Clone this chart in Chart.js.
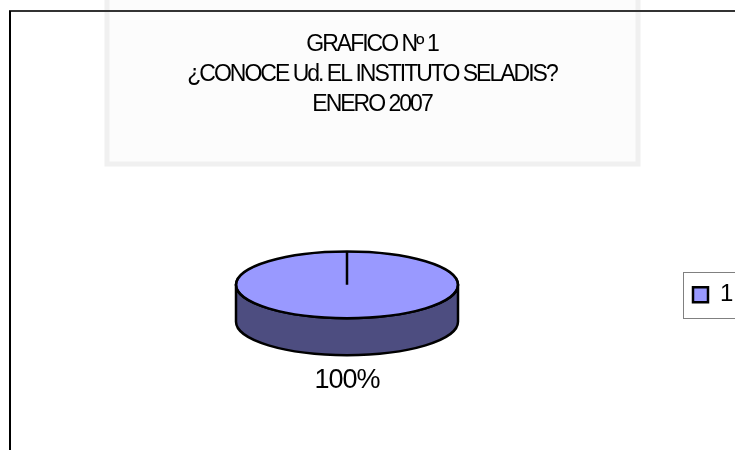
<!DOCTYPE html>
<html lang="es">
<head>
    <meta charset="UTF-8">
    <title>GRAFICO Nº 1</title>
    <script src="https://cdn.jsdelivr.net/npm/chart.js"></script>
    <style>
        body {
            margin: 0;
            background-color: #ffffff;
        }
        .chart-container {
            position: relative;
            width: 735px;
            height: 450px;
        }
    </style>
</head>
<body>
    <div class="chart-container">
        <canvas id="pieChart"></canvas>
    </div>

    <script>
        // datos del gráfico
        const categories = ['1'];
        const values = [100];
        const titleLines = ['GRAFICO Nº 1', '¿CONOCE Ud. EL INSTITUTO SELADIS?', 'ENERO 2007'];

        const topColors = ['#9999ff'];
        const sideColors = ['#4d4d80'];
        const tilt = 0.3;     // aplastamiento vertical del disco
        const depth = 37;     // grosor del disco en px
        const fontFamily = "'Liberation Sans', Arial, sans-serif";

        // fondo: marca de agua tenue y bordes de la hoja
        const pageFrame = {
            id: 'pageFrame',
            beforeDraw(chart) {
                const ctx = chart.ctx;
                ctx.save();
                ctx.fillStyle = '#fcfcfc';
                ctx.fillRect(105, 0, 535, 165);
                ctx.strokeStyle = '#f0f0f0';
                ctx.lineWidth = 5;
                ctx.strokeRect(107, -5, 531, 169);
                ctx.strokeStyle = '#333333';
                ctx.lineWidth = 2;
                ctx.beginPath();
                ctx.moveTo(9, 11);
                ctx.lineTo(735, 11);
                ctx.stroke();
                ctx.strokeStyle = '#000000';
                ctx.lineWidth = 2;
                ctx.beginPath();
                ctx.moveTo(10, 11);
                ctx.lineTo(10, 450);
                ctx.stroke();
                ctx.restore();
                // texto condensado como en el original
                ctx.letterSpacing = '-2px';
            }
        };

        // torta en 3D: lateral oscuro + tapa aplastada
        const pie3d = {
            id: 'pie3d',
            beforeDatasetsDraw(chart) {
                const ctx = chart.ctx;
                const arcs = chart.getDatasetMeta(0).data;
                const cx = arcs[0].x, cy = arcs[0].y, r = arcs[0].outerRadius;
                ctx.save();
                arcs.forEach((arc, i) => {
                    const a0 = Math.max(arc.startAngle, 0);
                    const a1 = Math.min(arc.endAngle, Math.PI);
                    if (a1 <= a0) return;
                    ctx.beginPath();
                    ctx.ellipse(cx, cy + depth, r, r * tilt, 0, a0, a1);
                    ctx.ellipse(cx, cy, r, r * tilt, 0, a1, a0, true);
                    ctx.closePath();
                    ctx.fillStyle = sideColors[i % sideColors.length];
                    ctx.fill();
                    ctx.strokeStyle = '#000000';
                    ctx.lineWidth = 2.5;
                    ctx.lineJoin = 'round';
                    ctx.stroke();
                });
                ctx.restore();
                ctx.save();
                ctx.translate(cx, cy);
                ctx.scale(1, tilt);
                ctx.translate(-cx, -cy);
            },
            afterDatasetsDraw(chart) {
                const ctx = chart.ctx;
                ctx.restore();
                const arcs = chart.getDatasetMeta(0).data;
                const cx = arcs[0].x, cy = arcs[0].y, r = arcs[0].outerRadius;
                ctx.save();
                ctx.strokeStyle = '#000000';
                ctx.lineWidth = 2.5;
                ctx.beginPath();
                ctx.ellipse(cx, cy, r, r * tilt, 0, 0, Math.PI * 2);
                ctx.stroke();

                // etiquetas de porcentaje
                const total = values.reduce((a, b) => a + b, 0);
                ctx.fillStyle = '#000000';
                ctx.font = '27px ' + fontFamily;
                ctx.letterSpacing = '-1px';
                ctx.textAlign = 'center';
                ctx.textBaseline = 'middle';
                arcs.forEach((arc, i) => {
                    const mid = (arc.startAngle + arc.endAngle) / 2;
                    const gap = 25;
                    const sin = Math.sin(mid), cos = Math.cos(mid);
                    const x = cx + cos * (r + gap);
                    const y = cy + sin * (r * tilt + gap) + (sin > 0 ? depth : 0);
                    ctx.fillText(Math.round(values[i] / total * 100) + '%', x, y);
                });
                ctx.restore();
            },
            afterDraw(chart) {
                // recuadro de la leyenda
                const lg = chart.legend;
                if (!lg || !lg.legendHitBoxes.length) return;
                const hb = lg.legendHitBoxes[0];
                const ctx = chart.ctx;
                const midY = hb.top + hb.height / 2;
                ctx.save();
                ctx.strokeStyle = '#808080';
                ctx.lineWidth = 1;
                ctx.strokeRect(hb.left - 9.5, Math.round(midY - 23) + 0.5, 80, 46);
                ctx.restore();
            }
        };

        function createChart() {
            const ctx = document.getElementById('pieChart').getContext('2d');
            new Chart(ctx, {
                type: 'pie',
                data: {
                    labels: categories,
                    datasets: [{
                        data: values,
                        backgroundColor: topColors,
                        borderColor: '#000000',
                        borderWidth: 2.5,
                        radius: 111
                    }]
                },
                options: {
                    responsive: true,
                    maintainAspectRatio: false,
                    animation: false,
                    events: [],
                    layout: {
                        padding: { left: 9, right: 0, top: 0, bottom: 10 }
                    },
                    plugins: {
                        title: {
                            display: true,
                            text: titleLines,
                            color: '#000000',
                            font: { family: fontFamily, size: 23, weight: 'normal', lineHeight: 1.3 },
                            padding: { top: 30, bottom: 10 }
                        },
                        legend: {
                            position: 'right',
                            fullSize: false,
                            maxWidth: 50,
                            title: {
                                display: true,
                                text: '',
                                font: { size: 8, lineHeight: 1.2 },
                                padding: 5
                            },
                            labels: {
                                boxWidth: 15,
                                boxHeight: 15,
                                padding: 8,
                                color: '#000000',
                                font: { family: fontFamily, size: 24 }
                            }
                        },
                        tooltip: { enabled: false }
                    }
                },
                plugins: [pageFrame, pie3d]
            });
        }

        document.addEventListener('DOMContentLoaded', createChart);
    </script>
</body>
</html>
